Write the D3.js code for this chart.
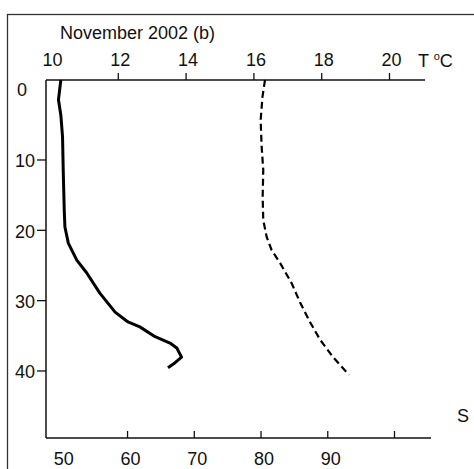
<!DOCTYPE html>
<html>
<head>
<meta charset="utf-8">
<script src="https://cdn.jsdelivr.net/npm/d3@7"></script>
<style>
  body { margin: 0; background: #fff; }
  svg { display: block; }
  text { font-family: "Liberation Sans", Arial, sans-serif; fill: #111; }
</style>
</head>
<body>
<div id="chart"></div>
<script>
// temperature profile (solid), depth in m
const tempDepth = [-1.3, 1.5, 3.7, 6.8, 11.5, 17.2, 19.6, 21.9, 24.3, 26.1, 29.0, 31.7, 33.1, 33.8, 35.2, 36.1, 36.8, 38.1, 38.9, 39.6]
const tempValues = [10.32, 10.25, 10.32, 10.37, 10.39, 10.42, 10.44, 10.54, 10.79, 11.08, 11.47, 11.92, 12.30, 12.65, 13.10, 13.54, 13.74, 13.88, 13.69, 13.48]

// salinity profile (dashed)
const salDepth = [-1.3, 1.1, 4.4, 8.2, 11.5, 15.3, 18.6, 21.0, 22.9, 24.7, 27.6, 30.3, 33.1, 35.6, 38.1, 40.6]
const salValues = [80.67, 80.29, 80.02, 80.17, 80.41, 80.32, 80.41, 80.92, 81.67, 82.92, 84.67, 85.91, 87.41, 88.91, 90.86, 93.25]

const depthTicks = [10, 20, 30, 40]
const tempTicks = [10, 12, 14, 16, 18, 20]
const salTicks = [50, 60, 70, 80, 90, 100]

const width = 474, height = 469

const svg = d3.select('#chart').append('svg')
	.attr('width', width)
	.attr('height', height)

// outer frame (runs past right/bottom edge)
svg.append('rect')
	.attr('x', 7.5).attr('y', 14.5)
	.attr('width', 500).attr('height', 500)
	.attr('fill', 'none')
	.attr('stroke', '#333')
	.attr('stroke-width', 1.3)

const y = d3.scaleLinear().domain([-1.3, 49.6]).range([80, 438])
const xT = d3.scaleLinear().domain([10, 20]).range([50, 389])
const xS = d3.scaleLinear().domain([50, 100]).range([60.3, 394])

const left = 46, topY = y(-1.3), bottomY = y(49.6)

// frame lines of the plot
svg.append('line').attr('x1', left).attr('x2', 425).attr('y1', topY).attr('y2', topY)
	.attr('stroke', '#111').attr('stroke-width', 1.5)
svg.append('line').attr('x1', left).attr('x2', 431).attr('y1', bottomY).attr('y2', bottomY)
	.attr('stroke', '#111').attr('stroke-width', 1.5)
svg.append('line').attr('x1', left).attr('x2', left).attr('y1', topY).attr('y2', bottomY)
	.attr('stroke', '#111').attr('stroke-width', 1.5)

function styleAxis(g){
	g.select('.domain').remove()
	g.selectAll('line').attr('stroke', '#111').attr('stroke-width', 1.3)
	g.selectAll('text').attr('font-size', 18).attr('font-family', '"Liberation Sans", Arial, sans-serif').attr('fill', '#111')
}

// top temperature axis
const topAxis = svg.append('g')
	.attr('transform', 'translate(0,' + topY + ')')
	.call(d3.axisTop(xT).tickValues(tempTicks).tickSize(7).tickPadding(7))
	.call(styleAxis)
topAxis.selectAll('.tick').filter(d => d == 10).select('line').remove()
topAxis.selectAll('text').attr('dx', 2)

// bottom salinity axis (ticks point up)
const botAxis = svg.append('g')
	.attr('transform', 'translate(0,' + bottomY + ')')
	.call(d3.axisBottom(xS).tickValues(salTicks).tickSize(-7).tickPadding(14))
	.call(styleAxis)
botAxis.selectAll('.tick').filter(d => d == 50).select('line').remove()
botAxis.selectAll('.tick').filter(d => d == 100).select('text').remove()
botAxis.selectAll('text').attr('dx', 3)

// left depth axis
const leftAxis = svg.append('g')
	.attr('transform', 'translate(' + left + ',0)')
	.call(d3.axisLeft(y).tickValues(depthTicks).tickSize(9).tickPadding(2))
	.call(styleAxis)
leftAxis.selectAll('text').attr('dy', '0.4em')

svg.append('text').attr('x', 22).attr('y', y(0) + 7).attr('text-anchor', 'middle')
	.attr('font-size', 18).text('0')

// labels
svg.append('text').attr('x', 60).attr('y', 39).attr('font-size', 18).text('November 2002 (b)')

const tLabel = svg.append('text').attr('x', 418).attr('y', 67).attr('font-size', 18)
tLabel.append('tspan').text('T ')
tLabel.append('tspan').attr('font-size', 11).attr('dy', -7).text('o')
tLabel.append('tspan').attr('dy', 7).text('C')

svg.append('text').attr('x', 457).attr('y', 422).attr('font-size', 18).text('S')

// profiles
const tempLine = d3.line()
	.x(d => xT(d[1]))
	.y(d => y(d[0]))
	.curve(d3.curveLinear)

const salLine = d3.line()
	.x(d => xS(d[1]))
	.y(d => y(d[0]))
	.curve(d3.curveLinear)

svg.append('path')
	.datum(tempDepth.map((d, i) => [d, tempValues[i]]))
	.attr('d', tempLine)
	.attr('fill', 'none')
	.attr('stroke', '#000')
	.attr('stroke-width', 3)
	.attr('stroke-linejoin', 'round')

svg.append('path')
	.datum(salDepth.map((d, i) => [d, salValues[i]]))
	.attr('d', salLine)
	.attr('fill', 'none')
	.attr('stroke', '#000')
	.attr('stroke-width', 2.2)
	.attr('stroke-dasharray', '7,4')
</script>
</body>
</html>
